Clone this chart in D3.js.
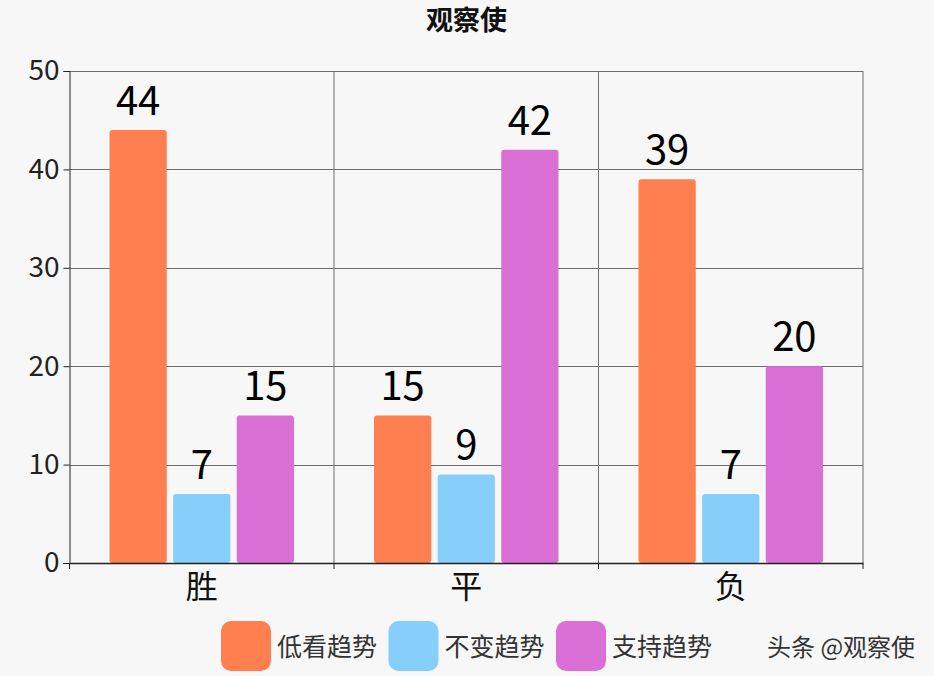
<!DOCTYPE html>
<html>
<head>
<meta charset="utf-8">
<script src="https://cdn.jsdelivr.net/npm/d3@7"></script>
<style>
  html, body { margin: 0; padding: 0; background: #f7f7f7; }
  svg { display: block; font-family: "Noto Sans CJK SC", "Noto Sans", sans-serif; }
</style>
</head>
<body>
<div id="chart"></div>
<script>
// data
var categories = ["胜", "平", "负"];
var seriesNames = ["低看趋势", "不变趋势", "支持趋势"];
var seriesValues = [
  [44, 15, 39],   // 低看趋势
  [7, 9, 7],      // 不变趋势
  [15, 42, 20]    // 支持趋势
];
var yTicks = [0, 10, 20, 30, 40, 50];
var colors = ["#ff7f50", "#87cefa", "#da70d6"];
var titleText = "观察使";
var watermark = "头条 @观察使";

var W = 934, H = 676;
var margin = {top: 71, right: 71, bottom: 113, left: 69.5};
var width = W - margin.left - margin.right;
var height = H - margin.top - margin.bottom;

var svg = d3.select("#chart").append("svg")
  .attr("width", W)
  .attr("height", H);

svg.append("rect").attr("width", W).attr("height", H).attr("fill", "#f7f7f7");

svg.append("text")
  .attr("x", 466.5)
  .attr("y", 18)
  .attr("text-anchor", "middle")
  .attr("dominant-baseline", "central")
  .style("font-size", "27px")
  .style("font-weight", "bold")
  .style("fill", "#111")
  .text(titleText);

var g = svg.append("g")
  .attr("transform", "translate(" + margin.left + "," + margin.top + ")");

var x0 = d3.scaleBand()
  .domain(categories)
  .range([0, width]);

var x1 = d3.scaleBand()
  .domain(seriesNames)
  .range([40, x0.bandwidth() - 40])
  .paddingInner(0.1);

var y = d3.scaleLinear()
  .domain([0, 50])
  .range([height, 0]);

// horizontal grid
g.append("g")
  .selectAll("line")
  .data(yTicks.slice(1))
  .enter().append("line")
  .attr("x1", 0).attr("x2", width)
  .attr("y1", d => Math.round(y(d)) + 0.5)
  .attr("y2", d => Math.round(y(d)) + 0.5)
  .attr("stroke", "#6e6e6e")
  .attr("stroke-width", 1);

// vertical grid at category boundaries
g.append("g")
  .selectAll("line")
  .data(categories.slice(1).concat(["end"]))
  .enter().append("line")
  .attr("x1", (d, i) => x0.step() * (i + 1))
  .attr("x2", (d, i) => x0.step() * (i + 1))
  .attr("y1", 0).attr("y2", height)
  .attr("stroke", "#6e6e6e")
  .attr("stroke-width", 1);

// bars
var groups = g.selectAll(".grp")
  .data(categories)
  .enter().append("g")
  .attr("class", "grp")
  .attr("transform", d => "translate(" + x0(d) + ",0)");

groups.selectAll("rect")
  .data((c, ci) => seriesNames.map((s, si) => ({s: s, si: si, v: seriesValues[si][ci]})))
  .enter().append("rect")
  .attr("x", d => x1(d.s))
  .attr("y", d => y(d.v))
  .attr("width", x1.bandwidth())
  .attr("height", d => height - y(d.v))
  .attr("rx", 3)
  .attr("fill", d => colors[d.si]);

groups.selectAll("text")
  .data((c, ci) => seriesNames.map((s, si) => ({s: s, si: si, v: seriesValues[si][ci]})))
  .enter().append("text")
  .attr("x", d => x1(d.s) + x1.bandwidth() / 2)
  .attr("y", d => y(d.v) - 15)
  .attr("text-anchor", "middle")
  .style("font-size", "40px")
  .style("fill", "#000")
  .text(d => d.v);

// axes
var yAxis = g.append("g")
  .call(d3.axisLeft(y).tickValues(yTicks).tickSize(6).tickPadding(4));
yAxis.select(".domain").attr("stroke", "#222");
yAxis.selectAll(".tick line").attr("stroke", "#222");
yAxis.selectAll("text")
  .style("font-size", "28px")
  .style("font-family", "'Noto Sans CJK SC', 'Noto Sans', sans-serif")
  .attr("fill", "#222");

var xAxis = g.append("g")
  .attr("transform", "translate(0," + height + ")")
  .call(d3.axisBottom(x0).tickSize(0).tickPadding(12));
xAxis.select(".domain").attr("stroke", "#222").attr("stroke-width", 1.5);
xAxis.selectAll("text")
  .style("font-size", "32px")
  .style("font-family", "'Noto Sans CJK SC', 'Noto Sans', sans-serif")
  .attr("fill", "#111");

// ticks at the band boundaries
xAxis.selectAll(".bnd")
  .data(d3.range(categories.length + 1))
  .enter().append("line")
  .attr("x1", d => x0.step() * d)
  .attr("x2", d => x0.step() * d)
  .attr("y1", 0).attr("y2", 6)
  .attr("stroke", "#222");

// legend
var legend = svg.append("g").attr("transform", "translate(221,621)");
var item = legend.selectAll("g")
  .data(seriesNames)
  .enter().append("g")
  .attr("transform", (d, i) => "translate(" + (i * 167.5) + ",0)");
item.append("rect")
  .attr("width", 50).attr("height", 50)
  .attr("rx", 10)
  .attr("fill", (d, i) => colors[i]);
item.append("text")
  .attr("x", 56)
  .attr("y", 24)
  .attr("dominant-baseline", "central")
  .style("font-size", "25px")
  .style("fill", "#333")
  .text(d => d);

svg.append("text")
  .attr("x", 767)
  .attr("y", 645)
  .attr("dominant-baseline", "central")
  .style("font-size", "24px")
  .style("fill", "#333")
  .text(watermark);
</script>
</body>
</html>
